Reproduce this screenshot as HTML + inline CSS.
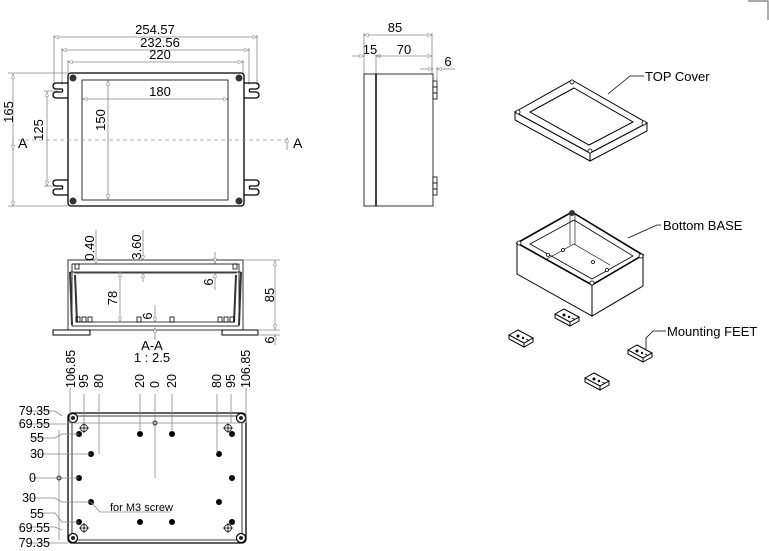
<!DOCTYPE html>
<html><head><meta charset="utf-8"><style>
html,body{margin:0;padding:0;background:#fff;width:769px;height:551px;overflow:hidden}
svg{display:block}
text{font-family:"Liberation Sans",sans-serif;fill:#000}
.d{stroke:#888;stroke-width:.8;fill:none}
.k{stroke:#000;stroke-width:1.3;fill:none}
.t{stroke:#000;stroke-width:.8;fill:none}
.w{stroke:#000;stroke-width:1;fill:#fff}
</style></head><body>
<svg width="769" height="551" viewBox="0 0 769 551">
<defs>
<marker id="a" markerWidth="6" markerHeight="6" refX="5.5" refY="3" orient="auto-start-reverse"><path d="M0,1 L6,3 L0,5 z" fill="#fff" stroke="#666" stroke-width=".6"/></marker>
<g id="ft" stroke="#000" stroke-width="1" fill="#fff">
<path d="M0,5 L9,0 L24,8 L15,13 Z M0,5 V9 L15,17 V13 M15,17 L24,12 V8"/>
<circle cx="9" cy="6" r="1.5" fill="#000" stroke="none"/><circle cx="14" cy="8" r="1.2" fill="#000" stroke="none"/>
<path d="M17,9 l3,1.5" stroke-width=".8"/>
</g>
</defs>
<path d="M748,1 H768 V20" stroke="#777" stroke-width="1.2" fill="none"/>

<!-- TOP VIEW -->
<g font-size="13">
<line class="d" x1="54" y1="37" x2="257" y2="37" marker-start="url(#a)" marker-end="url(#a)"/>
<text x="155" y="34" text-anchor="middle">254.57</text>
<line class="d" x1="62" y1="50" x2="249" y2="50" marker-start="url(#a)" marker-end="url(#a)"/>
<text x="160" y="47" text-anchor="middle">232.56</text>
<line class="d" x1="68" y1="62" x2="243" y2="62" marker-start="url(#a)" marker-end="url(#a)"/>
<text x="160" y="59" text-anchor="middle">220</text>
<path class="d" d="M54,35 V85 M257,35 V85 M62,48 V85 M249,48 V85 M68,60 V73 M243,60 V73"/>
<line class="d" x1="13" y1="74" x2="13" y2="206" marker-start="url(#a)" marker-end="url(#a)"/>
<path class="d" d="M8,73 H68 M8,206 H68 M44,91 H58 M44,186 H58"/>
<text transform="translate(13,112) rotate(-90)" text-anchor="middle">165</text>
<line class="d" x1="47" y1="92" x2="47" y2="186" marker-start="url(#a)" marker-end="url(#a)"/>
<text transform="translate(43,130) rotate(-90)" text-anchor="middle">125</text>
<line class="d" x1="108" y1="81" x2="108" y2="199" marker-start="url(#a)" marker-end="url(#a)"/>
<text transform="translate(105,120) rotate(-90)" text-anchor="middle">150</text>
<line class="d" x1="83" y1="99" x2="228" y2="99" marker-start="url(#a)" marker-end="url(#a)"/>
<text x="160" y="96" text-anchor="middle">180</text>
</g>
<path class="k" d="M68,83 H56 a3,3 0 0 0 0,6 H62 a2,2 0 0 1 0,3 H56 a3,3 0 0 0 0,6 H68"/>
<path class="k" d="M68,180 H56 a3,3 0 0 0 0,6 H62 a2,2 0 0 1 0,3 H56 a3,3 0 0 0 0,6 H68"/>
<path class="k" d="M244,83 H256 a3,3 0 0 1 0,6 H250 a2,2 0 0 0 0,3 H256 a3,3 0 0 1 0,6 H244"/>
<path class="k" d="M244,180 H256 a3,3 0 0 1 0,6 H250 a2,2 0 0 0 0,3 H256 a3,3 0 0 1 0,6 H244"/>
<rect class="k" x="68" y="73" width="176" height="133" rx="3" stroke-width="2"/>
<rect class="t" x="82" y="80" width="146" height="120"/>
<g fill="#333"><circle cx="73" cy="78" r="3.5"/><circle cx="239" cy="78" r="3.5"/><circle cx="73" cy="201" r="3.5"/><circle cx="239" cy="201" r="3.5"/></g>
<line x1="18" y1="140" x2="287" y2="140" stroke="#999" stroke-width=".8" stroke-dasharray="4,3"/>
<text x="18" y="148" font-size="14">A</text><text x="293" y="148" font-size="14">A</text>
<line class="d" x1="13" y1="138" x2="13" y2="150" marker-end="url(#a)"/>
<line class="d" x1="287" y1="150" x2="287" y2="138" marker-end="url(#a)"/>

<!-- SIDE VIEW -->
<g font-size="13">
<line class="d" x1="364" y1="35" x2="432" y2="35" marker-start="url(#a)" marker-end="url(#a)"/>
<text x="395" y="32" text-anchor="middle">85</text>
<line class="d" x1="352" y1="56" x2="364" y2="56" marker-end="url(#a)"/>
<line class="d" x1="382" y1="56" x2="376" y2="56" marker-end="url(#a)"/>
<line class="d" x1="376" y1="56" x2="432" y2="56" marker-end="url(#a)"/>
<text x="370" y="54" text-anchor="middle">15</text><text x="404" y="54" text-anchor="middle">70</text>
<line class="d" x1="420" y1="69" x2="433" y2="69" marker-end="url(#a)"/>
<line class="d" x1="455" y1="69" x2="437" y2="69" marker-end="url(#a)"/>
<text x="448" y="66" text-anchor="middle">6</text>
<path class="d" d="M364,33 V74 M432,33 V74 M376,54 V74 M437,67 V80"/>
</g>
<rect class="t" x="364" y="74" width="69" height="132"/>
<line x1="376" y1="74" x2="376" y2="206" stroke="#000" stroke-width="1.5"/>
<g fill="#fff" stroke="#000" stroke-width=".8">
<rect x="433" y="81" width="4" height="6"/><rect x="433" y="87" width="4" height="6"/><rect x="433" y="93" width="4" height="6"/>
<rect x="433" y="177" width="4" height="6"/><rect x="433" y="183" width="4" height="6"/><rect x="433" y="189" width="4" height="6"/>
</g>

<!-- SECTION A-A -->
<rect class="t" x="68" y="260" width="175" height="70"/>
<rect class="t" x="72" y="264" width="167" height="62" stroke="#666"/>
<line class="t" x1="70" y1="272" x2="241" y2="272"/>
<line class="t" x1="74" y1="273" x2="237" y2="273" stroke="#666"/>
<line class="t" x1="76" y1="322" x2="235" y2="322"/>
<path d="M70,272 L72,325 M75,275 L77,322 M241,272 L239,325 M236,275 L234,322" stroke="#333" stroke-width="2"/>
<rect class="w" x="53" y="330" width="37" height="5"/><rect class="w" x="222" y="330" width="36" height="5"/>
<g class="t"><rect x="76" y="317" width="4" height="5"/><rect x="82" y="317" width="4" height="5"/><rect x="88" y="317" width="4" height="5"/><rect x="137" y="317" width="4" height="5"/><rect x="170" y="317" width="4" height="5"/><rect x="218" y="317" width="4" height="5"/><rect x="224" y="317" width="4" height="5"/><rect x="230" y="317" width="4" height="5"/><rect x="75" y="264" width="4" height="5"/><rect x="233" y="264" width="4" height="5"/></g>
<g font-size="13">
<line class="d" x1="96" y1="230" x2="96" y2="264" marker-end="url(#a)"/>
<text transform="translate(94,248) rotate(-90)" text-anchor="middle">0.40</text>
<line class="d" x1="143" y1="230" x2="143" y2="260" marker-end="url(#a)"/>
<line class="d" x1="143" y1="282" x2="143" y2="273" marker-end="url(#a)"/>
<text transform="translate(141,247) rotate(-90)" text-anchor="middle">3.60</text>
<line class="d" x1="120" y1="272" x2="120" y2="322" marker-start="url(#a)" marker-end="url(#a)"/>
<text transform="translate(117,298) rotate(-90)" text-anchor="middle">78</text>
<line class="d" x1="155" y1="305" x2="155" y2="322" marker-end="url(#a)"/>
<line class="d" x1="155" y1="340" x2="155" y2="328" marker-end="url(#a)"/>
<text transform="translate(152,316) rotate(-90)" text-anchor="middle">6</text>
<line class="d" x1="215" y1="252" x2="215" y2="263" marker-end="url(#a)"/>
<line class="d" x1="215" y1="290" x2="215" y2="273" marker-end="url(#a)"/>
<text transform="translate(213,282) rotate(-90)" text-anchor="middle">6</text>
<line class="d" x1="275" y1="261" x2="275" y2="329" marker-start="url(#a)" marker-end="url(#a)"/>
<line class="d" x1="275" y1="345" x2="275" y2="335" marker-end="url(#a)"/>
<path class="d" d="M243,260 H280 M258,330 H280 M258,335 H280"/>
<text transform="translate(274,295) rotate(-90)" text-anchor="middle">85</text>
<text transform="translate(274,340) rotate(-90)" text-anchor="middle">6</text>
<text x="152" y="350" text-anchor="middle">A-A</text>
<text x="152" y="362" text-anchor="middle">1 : 2.5</text>
</g>

<!-- BOTTOM VIEW -->
<rect class="k" x="68" y="413" width="178" height="130" rx="4" stroke-width="2"/>
<rect class="t" x="72" y="416" width="170" height="124" rx="3" stroke="#555"/>
<g fill="#fff" stroke="#000" stroke-width="1.2">
<circle cx="73" cy="418" r="4.5"/><circle cx="241" cy="418" r="4.5"/><circle cx="73" cy="538" r="4.5"/><circle cx="241" cy="538" r="4.5"/></g>
<g fill="#222"><circle cx="73" cy="418" r="2"/><circle cx="241" cy="418" r="2"/><circle cx="73" cy="538" r="2"/><circle cx="241" cy="538" r="2"/></g>
<g fill="#000">
<circle cx="79" cy="434" r="3"/><circle cx="140" cy="434" r="3"/><circle cx="172" cy="434" r="3"/><circle cx="232" cy="434" r="3"/>
<circle cx="91" cy="454" r="3"/><circle cx="219" cy="454" r="3"/>
<circle cx="79" cy="478" r="3"/><circle cx="232" cy="478" r="3"/>
<circle cx="91" cy="502" r="3"/><circle cx="219" cy="502" r="3"/>
<circle cx="79" cy="522" r="3"/><circle cx="140" cy="522" r="3"/><circle cx="172" cy="522" r="3"/><circle cx="232" cy="522" r="3"/>
</g>
<g class="t"><circle cx="84" cy="428" r="3.5"/><circle cx="228" cy="428" r="3.5"/><circle cx="84" cy="528" r="3.5"/><circle cx="228" cy="528" r="3.5"/>
<path d="M79,428 H89 M84,423 V433 M223,428 H233 M228,423 V433 M79,528 H89 M84,523 V533 M223,528 H233 M228,523 V533"/></g>
<g class="d">
<line x1="68" y1="423" x2="246" y2="423"/>
<path d="M70,388 V423 M84,394 V423 M99,394 V454 M140,394 V430 M155,394 V478 M172,394 V430 M217,394 V454 M231,394 V423 M246,388 V423"/>
<path d="M59,430 V540"/>
<path d="M30,411 H55 L62,416 M30,424 H66 M30,438 H55 L62,434 H79 M30,454 H91 M30,478 H79 M30,498 H55 L62,502 H91 M30,513 H55 L62,522 H79 M30,527 H55 L62,530 M30,543 H68"/>
<path d="M91,502 L100,512 H170"/>
</g>
<circle cx="155" cy="423" r="2" class="t"/><circle cx="59" cy="478" r="2" class="t"/>
<g font-size="12.5">
<text x="50" y="415" text-anchor="end">79.35</text>
<text x="50" y="428" text-anchor="end">69.55</text>
<text x="44" y="442" text-anchor="end">55</text>
<text x="44" y="458" text-anchor="end">30</text>
<text x="36" y="482" text-anchor="end">0</text>
<text x="36" y="502" text-anchor="end">30</text>
<text x="44" y="518" text-anchor="end">55</text>
<text x="50" y="532" text-anchor="end">69.55</text>
<text x="50" y="547" text-anchor="end">79.35</text>
<text transform="translate(75,388) rotate(-90)">106.85</text>
<text transform="translate(88,388) rotate(-90)">95</text>
<text transform="translate(103,388) rotate(-90)">80</text>
<text transform="translate(144,388) rotate(-90)">20</text>
<text transform="translate(159,388) rotate(-90)">0</text>
<text transform="translate(176,388) rotate(-90)">20</text>
<text transform="translate(221,388) rotate(-90)">80</text>
<text transform="translate(235,388) rotate(-90)">95</text>
<text transform="translate(250,388) rotate(-90)">106.85</text>
<text x="110" y="511" font-size="11">for M3 screw</text>
</g>

<!-- ISO: TOP COVER -->
<g stroke="#000" stroke-width="1" fill="#fff">
<path d="M515,112 L590,153 L590,161 L515,120 Z"/>
<path d="M590,153 L647,123 L647,131 L590,161 Z"/>
<path d="M572,80 L647,123 L590,153 L515,112 Z"/>
<path d="M574,88 L633,122 L589,145 L530,112 Z" fill="none"/>
</g>
<g fill="#fff" stroke="#000" stroke-width=".8"><circle cx="572" cy="82" r="2"/><circle cx="644" cy="123" r="2"/><circle cx="590" cy="151" r="2"/><circle cx="518" cy="112" r="2"/></g>
<path d="M644,76 H630 L608,94" class="t"/>
<text x="645" y="81" font-size="13">TOP Cover</text>

<!-- ISO: BOTTOM BASE -->
<g stroke="#000" stroke-width="1" fill="#fff">
<path d="M517,243 L592,285 L592,316 L517,274 Z"/>
<path d="M592,285 L643,255 L643,286 L592,316 Z"/>
<path d="M572,212 L643,255 L592,285 L517,243 Z" stroke-width="1.6"/>
<path d="M574,220 L633,256 L592,279 L530,244 Z" fill="none" stroke-width=".8"/>
<path d="M570,214 V245 M575,214 V245 M545,260 L574,244 L610,265" fill="none" stroke-width=".6"/>
</g>
<g fill="#fff" stroke="#000" stroke-width=".8"><circle cx="548" cy="255" r="1.5"/><circle cx="563" cy="250" r="1.5"/><circle cx="593" cy="262" r="1.5"/><circle cx="607" cy="270" r="1.5"/><circle cx="519" cy="243" r="2"/><circle cx="641" cy="256" r="2"/><circle cx="592" cy="283" r="2"/></g>
<circle cx="572" cy="213" r="3" fill="#333"/>
<path d="M661,225 H657 L628,238" class="t"/>
<text x="663" y="230" font-size="13">Bottom BASE</text>

<!-- FEET -->
<use href="#ft" x="555" y="309"/>
<use href="#ft" x="509" y="330"/>
<use href="#ft" x="628" y="345"/>
<use href="#ft" x="585" y="373"/>
<path d="M666,331 H653 L646,338 V349" class="t"/>
<text x="667" y="336" font-size="13">Mounting FEET</text>
</svg>
</body></html>
